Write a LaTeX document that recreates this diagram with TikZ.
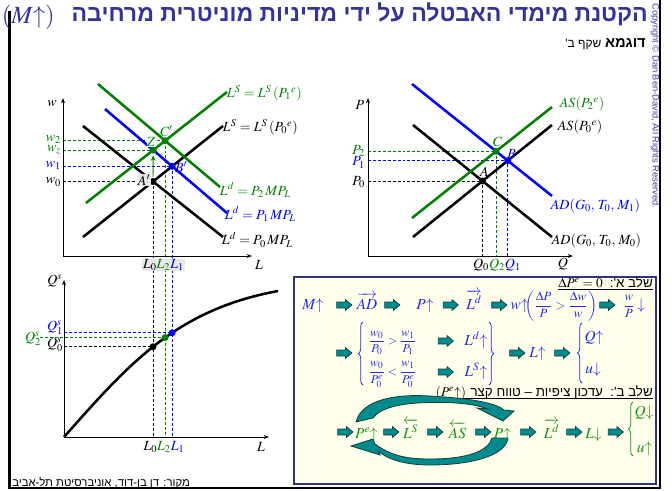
\documentclass[tikz,border=0pt]{standalone}
\usepackage{amsmath}
\usepackage{mathptmx}
\usepackage[no-math]{fontspec}
\usetikzlibrary{shapes.arrows,decorations.pathreplacing,intersections,arrows.meta}
\newfontfamily\heb[Script=Hebrew]{Liberation Sans}
\newfontfamily\arialf{Liberation Sans}
\TeXXeTstate=1
\newcommand{\myup}{\mathord{\uparrow}}
\newcommand{\mydn}{\mathord{\downarrow}}
\definecolor{tblue}{RGB}{51,51,153}
\definecolor{mblue}{RGB}{0,0,255}
\definecolor{tbl}{RGB}{40,40,245}
\definecolor{mgreen}{RGB}{0,128,0}
\definecolor{tgreen}{RGB}{20,145,20}
\definecolor{ateal}{RGB}{0,140,140}
\definecolor{aline}{RGB}{25,60,60}
\definecolor{boxfill}{RGB}{255,255,236}
\definecolor{boxline}{RGB}{50,50,130}
\definecolor{cright}{RGB}{60,60,170}
\definecolor{lgray}{RGB}{232,232,232}
\begin{document}
\begin{tikzpicture}[x=0.75pt,y=-0.75pt,
  curve/.style={line width=1.9pt},
  axis/.style={line width=0.7pt,-{Stealth[length=4pt,width=3pt]}},
  guide/.style={line width=0.6pt,dash pattern=on 2.2pt off 1.5pt},
  lab/.style={inner sep=0.5pt,font=\fontsize{10.5}{12}\selectfont},
  barr/.style={single arrow,draw=aline,fill=ateal,line width=0.5pt,
    inner xsep=0pt,inner ysep=2pt,minimum height=11.5pt,
    single arrow head extend=1.8pt,single arrow tip angle=80},
  bt/.style={inner sep=0pt,anchor=base,font=\fontsize{11.5}{13}\selectfont},
  fr/.style={inner sep=0pt,anchor=base,font=\fontsize{9}{10}\selectfont},
  hebt/.style={inner sep=0pt,font=\heb\fontsize{10}{12}\selectfont},
  bigarr/.style={fill=ateal,draw=aline,line width=0.6pt},
  brc/.style={line width=0.6pt,decorate,decoration={brace,amplitude=3.5pt}},
]
\useasboundingbox (0,0) rectangle (672,490);

% ---------- frame, title ----------
\draw[line width=1.6pt] (9.5,11) -- (9.5,488) -- (660,488) -- (660,0);
\node[anchor=base east,inner sep=0pt,text=tblue,font=\heb\bfseries\fontsize{17.3}{20}\selectfont] (title) at (648,21) {\beginR הקטנת מימדי האבטלה על ידי מדיניות מוניטרית מרחיבה\endR};
\node[anchor=base west,inner sep=0pt,text=tblue,font=\fontsize{18.5}{21}\selectfont] (titlem) at (1.5,23) {$(M\myup)$};
\node[anchor=base east,inner sep=0pt,font=\heb] (sub) at (646,47) {\beginR{\bfseries\fontsize{11}{13}\selectfont דוגמא} {\fontsize{9}{11}\selectfont שקף ב'}\endR};
\node[rotate=-90,anchor=west,inner sep=0pt,text=cright,font=\arialf\fontsize{7}{8}\selectfont] (copy) at (655,3) {Copyright © Dan Ben-David, All Rights Reserved.};
\node[anchor=base west,inner sep=0pt,font=\heb\fontsize{8.5}{10}\selectfont] (src) at (12,486) {\beginR מקור: דן בן-דוד, אוניברסיטת תל-אביב\endR};

% ---------- coordinates: labour market ----------
\coordinate (O1) at (63,256);
\coordinate (ld0a) at (83,126);  \coordinate (ld0b) at (223,237);
\coordinate (ls0a) at (83,237);  \coordinate (ls0b) at (223,126);
\coordinate (ld1a) at (105,109); \coordinate (ld1b) at (227,213);
\coordinate (ld2a) at (98,84);   \coordinate (ld2b) at (220,187);
\coordinate (ls1a) at (86,203);  \coordinate (ls1b) at (227,92);
\path[name path=ld0] (ld0a) -- (ld0b);
\path[name path=ls0] (ls0a) -- (ls0b);
\path[name path=ld1] (ld1a) -- (ld1b);
\path[name path=ld2] (ld2a) -- (ld2b);
\path[name path=ls1] (ls1a) -- (ls1b);
\path[name intersections={of=ld0 and ls0,by=Ap}];
\path[name intersections={of=ld1 and ls0,by=Bp}];
\path[name intersections={of=ld2 and ls1,by=Cp}];
\path[name intersections={of=ld1 and ls1,by=Zp}];

% ---------- coordinates: production ----------
\coordinate (O3) at (64,437);
\coordinate (qe) at (278,291);
\path[name path=qs] (O3) .. controls (128,365) and (175,310) .. (qe);
\path[name path=vA] (Ap) -- (Ap |- O3);
\path[name path=vB] (Bp) -- (Bp |- O3);
\path[name path=vC] (Cp) -- (Cp |- O3);
\path[name intersections={of=qs and vA,by=Aq}];
\path[name intersections={of=qs and vB,by=Bq}];
\path[name intersections={of=qs and vC,by=Cq}];

% ---------- coordinates: AD-AS ----------
\coordinate (O2) at (368,256);
\coordinate (ad0a) at (413,125); \coordinate (ad0b) at (552,237);
\coordinate (as0a) at (413,237); \coordinate (as0b) at (552,125);
\coordinate (ad1a) at (412,84);  \coordinate (ad1b) at (552,196);
\coordinate (as2a) at (412,218); \coordinate (as2b) at (552,107);
\path[name path=ad0] (ad0a) -- (ad0b);
\path[name path=as0] (as0a) -- (as0b);
\path[name path=ad1] (ad1a) -- (ad1b);
\path[name path=as2] (as2a) -- (as2b);
\path[name intersections={of=ad0 and as0,by=PA}];
\path[name intersections={of=ad1 and as0,by=PB}];
\path[name intersections={of=ad1 and as2,by=PC}];

% ---------- guides ----------
\draw[guide] (O1 |- Ap) -- (Ap);
\draw[guide,mblue] (O1 |- Bp) -- (Bp);
\draw[guide,mgreen] (O1 |- Zp) -- (Zp);
\draw[guide,mgreen] (O1 |- Cp) -- (Cp);
\draw[guide] (Ap) -- (Ap |- O3);
\draw[guide,mgreen] (Cp) -- (Cp |- O3);
\draw[guide,mblue] (Bp) -- (Bp |- O3);
\draw[guide,mblue] (O3 |- Bq) -- (Bq);
\draw[guide,mgreen] (40,0 |- Cq) -- (Cq);
\draw[guide] (O3 |- Aq) -- (Aq);
\draw[guide] (O2 |- PA) -- (PA) -- (PA |- O2);
\draw[guide,mblue] (O2 |- PB) -- (PB) -- (PB |- O2);
\draw[guide,mgreen] (O2 |- PC) -- (PC) -- (PC |- O2);

% ---------- axes ----------
\draw[axis] (O1) -- (63,98);
\draw[axis] (O1) -- (252,256);
\draw[axis] (O2) -- (368,98);
\draw[axis] (O2) -- (573,256);
\draw[axis] (O3) -- (64,280);
\draw[axis] (O3) -- (269,437);

% ---------- curves ----------
\draw[curve] (ld0a) -- (ld0b);
\draw[curve] (ls0a) -- (ls0b);
\draw[curve,mblue] (ld1a) -- (ld1b);
\draw[curve,mgreen] (ld2a) -- (ld2b);
\draw[curve,mgreen] (ls1a) -- (ls1b);
\draw[curve] (ad0a) -- (ad0b);
\draw[curve] (as0a) -- (as0b);
\draw[curve,mblue] (ad1a) -- (ad1b);
\draw[curve,mgreen] (as2a) -- (as2b);
\draw[curve] (O3) .. controls (128,365) and (175,310) .. (qe);

\draw[mgreen,line width=0.7pt,-{Stealth[length=4pt,width=3.5pt]}] ([yshift=3.5pt]Ap) -- ([yshift=-4pt]Zp);

% ---------- dots ----------
\fill (Ap) circle (2.6pt);
\fill[mblue] (Bp) circle (2.6pt);
\fill[mgreen] (Cp) circle (2.6pt);
\fill[mgreen] (Zp) circle (2.6pt);
\fill (PA) circle (2.6pt);
\fill[mblue] (PB) circle (2.6pt);
\fill[mgreen] (PC) circle (2.6pt);
\fill (Aq) circle (2.6pt);
\fill[mblue] (Bq) circle (2.6pt);
\fill[mgreen] (Cq) circle (2.6pt);

% ---------- labels: labour market ----------
\node[lab] (lw) at (52,104) {$w$};
\node[lab] (lLax) at (259,265) {$L$};
\node[lab,fill=lgray] (lL) at (163.5,265) {$L_0{\color{mgreen}L_2}{\color{mblue}L_1}$};
\node[lab,anchor=east,text=mgreen] (lw2) at (62,139.5) {$w_2$};
\node[lab,anchor=east,text=mgreen] (lwz) at (62,150) {$w_z$};
\node[lab,anchor=east,text=mblue] (lw1) at (62,165.5) {$w_1$};
\node[lab,anchor=east] (lw0) at (62,182) {$w_0$};
\node[lab,anchor=east,fill=lgray] (lA) at ([xshift=-1.5pt,yshift=1pt]Ap) {$A'$};
\node[lab,anchor=west,text=mblue] (lB) at ([xshift=1.5pt,yshift=-1pt]Bp) {$B'$};
\node[lab,anchor=south,text=mgreen] (lC) at ([yshift=2.5pt,xshift=1pt]Cp) {$C'$};
\node[lab,anchor=south,text=mgreen,fill=white,inner sep=0.2pt] (lZ) at ([yshift=2pt,xshift=-1.5pt]Zp) {$Z$};
\node[lab,anchor=west,text=mgreen] (tls1) at (226,93) {$L^S = L^S\,(P_1{}^e)$};
\node[lab,anchor=west] (tls0) at (222,127) {$L^S = L^S\,(P_0{}^e)$};
\node[lab,anchor=west,text=mgreen] (tld2) at (219,190) {$L^d = P_2\,MP_L$};
\node[lab,anchor=west,text=mblue] (tld1) at (224,214) {$L^d = P_1\,MP_L$};
\node[lab,anchor=west] (tld0) at (221,240) {$L^d = P_0\,MP_L$};

% ---------- labels: AD-AS ----------
\node[lab] (lP) at (360,105) {$P$};
\node[lab] (lQax) at (563,264) {$Q$};
\node[lab] (lQ) at (497,265) {$Q_0{\color{mgreen}Q_2}{\color{mblue}Q_1}$};
\node[lab,anchor=east,text=mgreen] (lP2) at (366,151) {$P_2$};
\node[lab,anchor=east,text=mblue] (lP1) at (366,162.5) {$P_1$};
\node[lab,anchor=east] (lP0) at (366,182) {$P_0$};
\node[lab,anchor=south] (lPA) at ([yshift=2.5pt,xshift=1.5pt]PA) {$A$};
\node[lab,anchor=south west,text=mblue] (lPB) at ([yshift=1pt,xshift=-1pt]PB) {$B$};
\node[lab,anchor=south,text=mgreen] (lPC) at ([yshift=2.5pt,xshift=1pt]PC) {$C$};
\node[lab,anchor=west,text=mgreen] (tas2) at (559,104) {$AS(P_2{}^e)$};
\node[lab,anchor=west] (tas0) at (557,127) {$AS(P_0{}^e)$};
\node[lab,anchor=west,text=mblue] (tad1) at (550,206) {$AD(G_0,\,T_0,\,M_1)$};
\node[lab,anchor=west] (tad0) at (551,241) {$AD(G_0,\,T_0,\,M_0)$};

% ---------- labels: production ----------
\node[lab,anchor=east] (lQs) at (63,281) {$Q^s$};
\node[lab,text=mblue] (lQ1) at (55,328) {$Q_1^s$};
\node[lab,text=mgreen] (lQ2) at (33,338.5) {$Q_2^s$};
\node[lab] (lQ0) at (55,344.5) {$Q_0^s$};
\node[lab] (lLb) at (164,447) {$L_0{\color{mgreen}L_2}{\color{mblue}L_1}$};
\node[lab] (lLbax) at (261,447) {$L$};

% ---------- box ----------
\draw[boxline,fill=boxfill,line width=0.8pt] (294,277) rectangle (656,484);

\node[hebt,anchor=base east] (h1) at (653,287) {\beginR שלב א':\endR};
\node[inner sep=0pt,anchor=base east,font=\fontsize{10}{12}\selectfont] (h1m) at ([xshift=-5pt]h1.base west) {$\Delta P^e = 0$};
\draw[line width=0.5pt] ([yshift=-1.6pt]h1m.base west) -- ([yshift=-1.6pt]h1.base east);

% row 2
\node[bt,text=tbl] (m1) at (313,309) {$M\myup$};
\node[bt,text=tbl] (m2) at (367,309) {$\overrightarrow{AD}$};
\node[bt,text=tbl] (m3) at (425,309) {$P\myup$};
\node[bt,text=tbl] (m4) at (474,309) {$\overrightarrow{L^d}$};
\node[bt,text=tbl] (m5) at (519.5,309) {$w\myup$};
\node[bt,text=tbl,font=\fontsize{9.5}{11}\selectfont] (m6) at (561,309) {$\left(\dfrac{\Delta P}{P} > \dfrac{\Delta w}{w}\right)$};
\node[bt,text=tbl] (m7) at (634,309) {{\fontsize{9.5}{11}\selectfont$\dfrac{w}{P}$}\,$\mydn$};
\node[barr] (a1) at (342.5,305) {};
\node[barr] (a2) at (390.5,305) {};
\node[barr] (a3) at (449,305) {};
\node[barr] (a4) at (497.5,305) {};
\node[barr] (a5) at (605.5,305) {};

% rows 3-4
\node[barr] (a6) at (342.5,353) {};
\draw[brc,tbl] (363,385) -- (363,322);
\node[fr,text=tbl] (f1) at (392.5,344.5) {$\dfrac{w_0}{P_0} > \dfrac{w_1}{P_1}$};
\node[barr] (a7) at (444,341) {};
\node[bt,text=tbl] (f1r) at (476,345) {$L^d\myup$};
\node[fr,text=tbl] (f2) at (392.5,375) {$\dfrac{w_0}{P_0^e} < \dfrac{w_1}{P_0^e}$};
\node[barr] (a8) at (444,372) {};
\node[bt,text=tbl] (f2r) at (476,376) {$L^S\myup$};
\draw[brc,tbl] (489,322) -- (489,385);
\node[barr] (a9) at (515.5,353) {};
\node[bt,text=tbl] (m8) at (537.5,357) {$L\myup$};
\node[barr] (a10) at (560.5,353) {};
\draw[brc,tbl] (582,383) -- (582,323);
\node[bt,text=tbl] (m9) at (594,341) {$Q\myup$};
\node[bt,text=tbl] (m10) at (593,373) {$u\mydn$};

% stage b header
\node[hebt,anchor=base east] (h2) at (653,396) {\beginR שלב ב':\ \ עדכון ציפיות – טווח קצר\endR};
\node[inner sep=0pt,anchor=base east,font=\fontsize{10}{12}\selectfont] (h2m) at ([xshift=-3pt]h2.base west) {$(P^e\myup)$};
\draw[line width=0.5pt] ([yshift=-1.6pt]h2m.base west) -- ([yshift=-1.6pt]h2.base east);

% big curved arrows
\filldraw[bigarr] (356,422) .. controls (362,398) and (400,394) .. (430,396) .. controls (465,398) and (495,402) .. (504,410) -- (514,411) -- (503,421) -- (477,408) -- (488,409) .. controls (475,404) and (455,402) .. (430,402.5) .. controls (400,403) and (380,408) .. (373,418) -- cycle;
\filldraw[bigarr] (508,438) .. controls (506,456) and (470,465) .. (430,465) .. controls (402,465) and (386,458) .. (378,451) -- (380,455) -- (351,446) -- (373,439) -- (375,444) .. controls (390,455) and (405,459) .. (430,459) .. controls (465,459) and (488,452) .. (492,438) -- cycle;

% green row
\node[barr] (b1) at (343.5,432) {};
\node[bt,text=tgreen] (g1) at (366.5,438) {$P^e\myup$};
\node[barr] (b2) at (389.5,432) {};
\node[bt,text=tgreen] (g2) at (410.5,438) {$\overleftarrow{L^S}$};
\node[barr] (b3) at (433.5,432) {};
\node[bt,text=tgreen] (g3) at (457.5,438) {$\overleftarrow{AS}$};
\node[barr] (b4) at (481.5,432) {};
\node[bt,text=tgreen] (g4) at (502.5,438) {$P\myup$};
\node[barr] (b5) at (526.5,432) {};
\node[bt,text=tgreen] (g5) at (551.5,438) {$\overrightarrow{L^d}$};
\node[barr] (b6) at (572.5,432) {};
\node[bt,text=tgreen] (g6) at (593.5,438) {$L\mydn$};
\node[barr] (b7) at (614,432) {};
\draw[brc,tgreen] (633,456) -- (633,402);
\node[bt,text=tgreen] (g7) at (644,416) {$Q\mydn$};
\node[bt,text=tgreen] (g8) at (644.5,452) {$u\myup$};
\end{tikzpicture}
\end{document}
